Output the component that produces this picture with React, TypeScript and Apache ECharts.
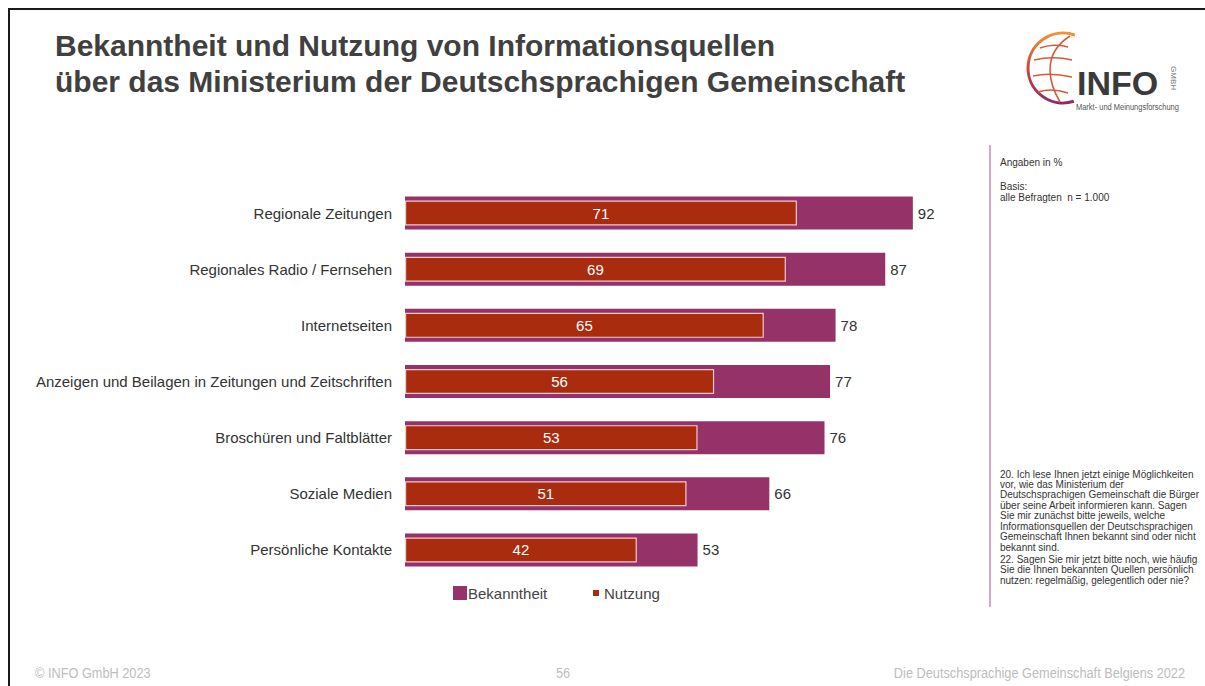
import React, { useEffect, useRef } from "react";
import * as echarts from "echarts";

const categories = [
  "Regionale Zeitungen",
  "Regionales Radio / Fernsehen",
  "Internetseiten",
  "Anzeigen und Beilagen in Zeitungen und Zeitschriften",
  "Broschüren und Faltblätter",
  "Soziale Medien",
  "Persönliche Kontakte",
];
const bekanntheit = [92, 87, 78, 77, 76, 66, 53];
const nutzung = [71, 69, 65, 56, 53, 51, 42];
const seriesNames = ["Bekanntheit", "Nutzung"];

const titleLines = [
  "Bekanntheit und Nutzung von Informationsquellen",
  "über das Ministerium der Deutschsprachigen Gemeinschaft",
];
const questionText = [
  "20. Ich lese Ihnen jetzt einige Möglichkeiten",
  "vor, wie das Ministerium der",
  "Deutschsprachigen Gemeinschaft die Bürger",
  "über seine Arbeit informieren kann. Sagen",
  "Sie mir zunächst bitte jeweils, welche",
  "Informationsquellen der Deutschsprachigen",
  "Gemeinschaft Ihnen bekannt sind oder nicht",
  "bekannt sind.",
  "22. Sagen Sie mir jetzt bitte noch, wie häufig",
  "Sie die Ihnen bekannten Quellen persönlich",
  "nutzen: regelmäßig, gelegentlich oder nie?",
];

const C_BEK = "#953268";
const C_NUT = "#a92c0f";
const FONT = "'Liberation Sans', Arial, sans-serif";

export default function App() {
  const ref = useRef<HTMLDivElement>(null);
  useEffect(() => {
    document.body.style.margin = "0";
    const chart = echarts.init(ref.current!, null, { renderer: "svg" });
    const orangePurple = new echarts.graphic.LinearGradient(0, 0, 0, 1, [
      { offset: 0, color: "#f39234" },
      { offset: 0.5, color: "#d0443c" },
      { offset: 1, color: "#8c2a6c" },
    ]);
    const gridLine = "#d65a3a";
    const small = (x: number, y: number, text: string) => ({
      type: "text",
      x,
      y,
      style: { text, fontSize: 10, fill: "#333", fontFamily: FONT, textVerticalAlign: "middle" },
    });
    chart.setOption({
      animation: false,
      backgroundColor: "#ffffff",
      textStyle: { fontFamily: FONT },
      grid: { left: 405, top: 185, width: 552, height: 393 },
      xAxis: { type: "value", min: 0, max: 100, show: false },
      yAxis: [
        {
          type: "category",
          data: categories,
          inverse: true,
          axisLine: { show: false },
          axisTick: { show: false },
          axisLabel: { fontSize: 15, color: "#333", margin: 13, fontFamily: FONT },
        },
        {
          type: "category",
          data: categories,
          inverse: true,
          show: false,
          position: "left",
        },
      ],
      series: [
        {
          name: seriesNames[0],
          type: "bar",
          yAxisIndex: 0,
          data: bekanntheit,
          barWidth: 33,
          itemStyle: { color: C_BEK },
          label: { show: true, position: "right", distance: 5, color: "#333", fontSize: 15, fontFamily: FONT },
        },
        {
          name: seriesNames[1],
          type: "bar",
          yAxisIndex: 1,
          data: nutzung,
          barWidth: 25,
          itemStyle: { color: C_NUT, borderColor: "#f3c8d0", borderWidth: 1.2 },
          label: { show: true, position: "inside", color: "#fff", fontSize: 15, fontFamily: FONT },
        },
      ],
      graphic: [
        // frame
        { type: "line", shape: { x1: 8, y1: 9, x2: 1205, y2: 9 }, style: { stroke: "#1a1a1a", lineWidth: 2 } },
        { type: "line", shape: { x1: 9, y1: 8, x2: 9, y2: 686 }, style: { stroke: "#1a1a1a", lineWidth: 2 } },
        // title
        ...titleLines.map((t, i) => ({
          type: "text",
          x: 55,
          y: 45 + i * 36,
          style: { text: t, fontSize: 30, fontWeight: "bold", fill: "#404040", fontFamily: FONT, textVerticalAlign: "middle" },
        })),
        // logo
        {
          type: "arc",
          shape: { cx: 1063, cy: 68, r: 35, startAngle: (72 * Math.PI) / 180, endAngle: (290 * Math.PI) / 180, clockwise: true },
          style: { stroke: orangePurple, lineWidth: 3, fill: "none" },
        },
        {
          type: "bezierCurve",
          shape: { x1: 1070, y1: 36, cpx1: 1040, cpy1: 55, x2: 1060, y2: 102, cpx2: 1050, cpy2: 85 },
          style: { stroke: gridLine, lineWidth: 1.6, fill: "none" },
        },
        ...[
          [1040, 48, 1068, 47],
          [1034, 60, 1072, 60],
          [1033, 76, 1072, 77],
          [1038, 92, 1068, 93],
        ].map(([x1, y1, x2, y2]) => ({
          type: "bezierCurve",
          shape: { x1, y1, x2, y2, cpx1: (x1 + x2) / 2 - 6, cpy1: y1 - 3, cpx2: (x1 + x2) / 2 + 6, cpy2: y2 - 3 },
          style: { stroke: gridLine, lineWidth: 1.6, fill: "none" },
        })),
        {
          type: "text",
          x: 1077,
          y: 83,
          style: { text: "INFO", fontSize: 34, fontWeight: "bold", fill: "#3a3a3a", fontFamily: FONT, textVerticalAlign: "middle" },
        },
        {
          type: "text",
          x: 1173,
          y: 78,
          rotation: -Math.PI / 2,
          style: { text: "GMBH", fontSize: 8, fill: "#777", fontFamily: FONT, textAlign: "center", textVerticalAlign: "middle" },
        },
        {
          type: "text",
          x: 1076,
          y: 107,
          scaleX: 0.83,
          style: { text: "Markt- und Meinungsforschung", fontSize: 9, fill: "#555", fontFamily: FONT, textVerticalAlign: "middle" },
        },
        // side panel
        { type: "line", shape: { x1: 990, y1: 145, x2: 990, y2: 607 }, style: { stroke: "#c98cb0", lineWidth: 1.5 } },
        small(1000, 162, "Angaben in %"),
        small(1000, 186, "Basis:"),
        small(1000, 197, "alle Befragten  n = 1.000"),
        ...questionText.map((t, i) => small(1000, 474 + i * 10.45 + (i >= 8 ? 1.5 : 0), t)),
        // legend
        { type: "rect", shape: { x: 453, y: 586, width: 14, height: 14 }, style: { fill: C_BEK } },
        { type: "text", x: 468, y: 593, style: { text: seriesNames[0], fontSize: 15, fill: "#444", fontFamily: FONT, textVerticalAlign: "middle" } },
        { type: "rect", shape: { x: 593, y: 590, width: 6, height: 6 }, style: { fill: C_NUT } },
        { type: "text", x: 604, y: 593, style: { text: seriesNames[1], fontSize: 15, fill: "#444", fontFamily: FONT, textVerticalAlign: "middle" } },
        // footer
        { type: "text", x: 35, y: 673, scaleX: 0.88, style: { text: "© INFO GmbH 2023", fontSize: 14.5, fill: "#bdbdbd", fontFamily: FONT, textVerticalAlign: "middle" } },
        { type: "text", x: 563, y: 673, scaleX: 0.88, style: { text: "56", fontSize: 14.5, fill: "#bdbdbd", fontFamily: FONT, textAlign: "center", textVerticalAlign: "middle" } },
        { type: "text", x: 1185, y: 673, scaleX: 0.88, style: { text: "Die Deutschsprachige Gemeinschaft Belgiens 2022", fontSize: 14.5, fill: "#bdbdbd", fontFamily: FONT, textAlign: "right", textVerticalAlign: "middle" } },
      ],
    });
    return () => chart.dispose();
  }, []);
  return <div ref={ref} style={{ width: 1205, height: 686 }} />;
}
